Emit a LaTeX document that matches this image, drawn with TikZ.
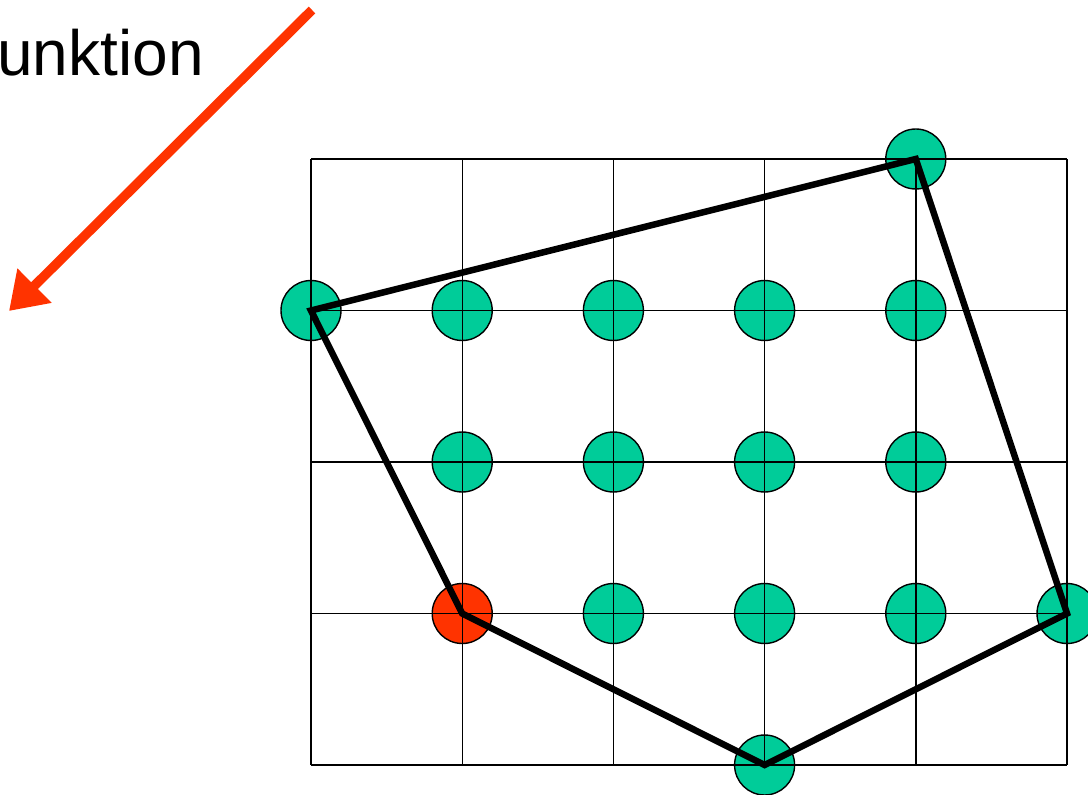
\documentclass[tikz,border=0pt]{standalone}
\usepackage{fontspec}
\setmainfont{Liberation Sans}
\usetikzlibrary{arrows.meta}
\definecolor{Vert}{HTML}{00CC99}
\definecolor{Rouge}{HTML}{FF3300}

\begin{document}
\begin{tikzpicture}[x=1pt,y=-1pt,
    punkt/.style={circle, draw=black, line width=1.4pt, minimum size=60pt, inner sep=0pt},
    gitter/.style={black, line width=1.4pt},
    rand/.style={black, line width=6.5pt}]
  \clip (0,0) rectangle (1088,795);
  \fill[white] (0,0) rectangle (1088,795);
  % Punkte auf dem Gitter (Spalte/Zeile)
  \foreach \c/\r/\coul [count=\i] in {4/0/Vert, 0/1/Vert, 1/1/Vert, 2/1/Vert, 3/1/Vert, 4/1/Vert,
      1/2/Vert, 2/2/Vert, 3/2/Vert, 4/2/Vert, 1/3/Rouge, 2/3/Vert, 3/3/Vert, 4/3/Vert, 5/3/Vert, 3/4/Vert}{
    \node[punkt, fill=\coul] (p\i) at (311+\c*151.2, 159+\r*151.5) {};
  }
  \foreach \c in {0,...,5}{
    \draw[gitter] (311+\c*151.2, 159) -- ++(0,606);
  }
  \foreach \r in {0,...,4}{
    \draw[gitter] (311, 159+\r*151.5) -- ++(756,0);
  }
  \draw[rand] (p2.center) -- (p1.center) -- (p15.center) -- (p16.center) -- (p11.center) -- cycle;
  \node[anchor=base west, inner sep=0pt, font=\fontsize{64}{70}\selectfont] (titel) at (-42,75) {Funktion};
  \coordinate (pfeilA) at (312,10);
  \coordinate (pfeilB) at (9,311);
  \draw[Rouge, line width=9.5pt, -{Triangle[length=36pt, width=46pt]}] (pfeilA) -- (pfeilB);
\end{tikzpicture}
\end{document}
